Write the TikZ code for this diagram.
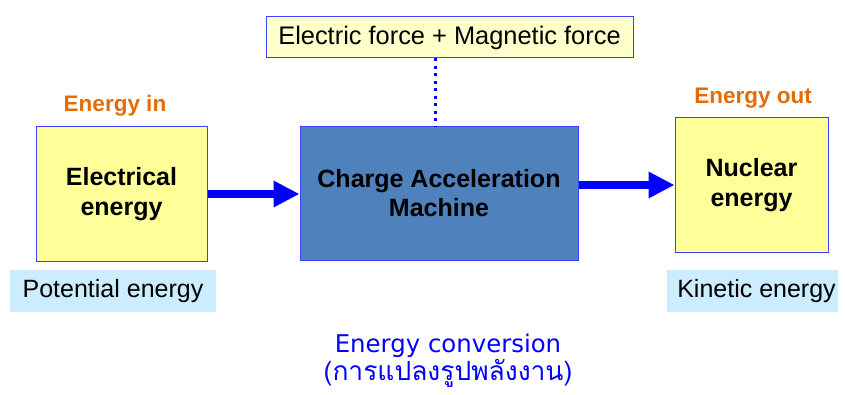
\documentclass[tikz,border=0pt]{standalone}
\usepackage{fontspec}
\setmainfont{Liberation Sans}
\newfontfamily\thaifont[Script=Thai]{Loma}
\newfontfamily\convfont{DejaVu Sans}
\usetikzlibrary{arrows.meta}
\definecolor{boxyellow}{HTML}{FFFF99}
\definecolor{paleyellow}{HTML}{FFFFCC}
\definecolor{machineblue}{HTML}{4F81BD}
\definecolor{edgeblue}{HTML}{4040FF}
\definecolor{paleblue}{HTML}{CCECFF}
\definecolor{orangetext}{HTML}{E36C09}
\definecolor{arrowblue}{HTML}{0000FF}
\tikzset{
  ebox/.style={draw=edgeblue, line width=1pt, fill=boxyellow, align=center, inner sep=0pt,
    font=\fontsize{25}{30}\selectfont\bfseries},
  mbox/.style={draw=edgeblue, line width=1pt, fill=machineblue, align=center, inner sep=0pt,
    font=\fontsize{25}{29}\selectfont\bfseries},
  fbox/.style={draw=edgeblue, line width=1pt, fill=paleyellow, inner sep=0pt,
    font=\fontsize{25.4}{30}\selectfont},
  tag/.style={fill=paleblue, inner sep=0pt, font=\fontsize{25}{30}\selectfont},
  iolabel/.style={text=orangetext, font=\fontsize{22.5}{26}\selectfont\bfseries},
  bigarrow/.style={draw=arrowblue, line width=8pt, -{Triangle[length=26pt,width=25pt]}},
  dotline/.style={draw=arrowblue, line width=3pt, dash pattern=on 3pt off 4.5pt}
}
\begin{document}
\begin{tikzpicture}[x=1pt,y=1pt]
\useasboundingbox (0,0) rectangle (845,394);
\node[fbox, minimum width=367pt, minimum height=41pt] (force) at (449.5,356.5) {Electric force + Magnetic force};
\node[mbox, minimum width=278pt, minimum height=133pt] (machine) at (439,200.5) {Charge Acceleration\\Machine};
\node[ebox, minimum width=171pt, minimum height=134pt] (ein) at (121.5,200) {Electrical\\energy};
\node[ebox, minimum width=153pt, minimum height=134pt] (eout) at (751.5,209) {Nuclear\\energy};
\node[tag, minimum width=206pt, minimum height=42pt] (pot) at (113,103) {Potential energy};
\node[tag, minimum width=171pt, minimum height=42pt] (kin) at (752.5,103) {\hspace*{8pt}Kinetic energy};
\node[iolabel] (inlabel) at (115,288) {Energy in};
\node[iolabel] (outlabel) at (753,296) {Energy out};
\node[text=arrowblue, font=\convfont\fontsize{24.4}{28}\selectfont] (conv1) at (448,48) {Energy conversion};
\node[text=arrowblue, font=\thaifont\fontsize{26.4}{28}\selectfont] (conv2) at (448,21) {(การแปลงรูปพลังงาน)};
\coordinate (dtop) at ([xshift=-14.5pt]force.south);
\draw[dotline] (dtop) -- (dtop |- machine.north);
\draw[bigarrow] (ein.east) -- (machine.west |- ein.east);
\draw[bigarrow] (machine.east |- eout.west) -- (eout.west);
\end{tikzpicture}
\end{document}
